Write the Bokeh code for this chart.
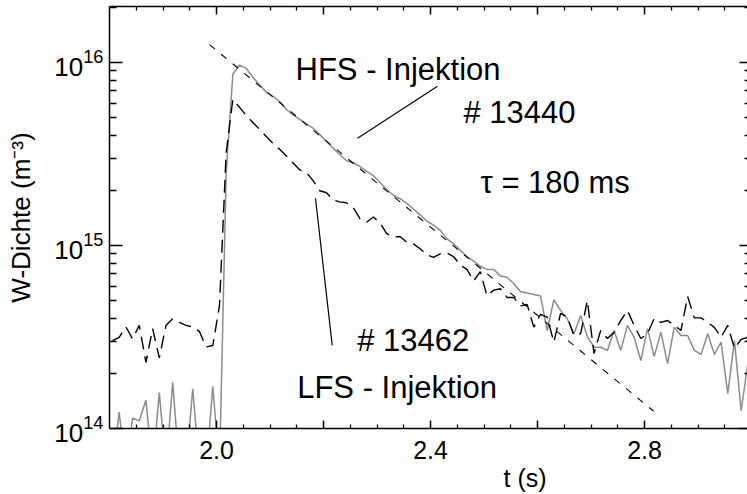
import numpy as np
from bokeh.plotting import figure
from bokeh.models import (FixedTicker, LinearAxis, LogAxis, Label, Range1d, Title,
                          CustomJSTickFormatter, LogTickFormatter)
from bokeh.embed import file_html
from bokeh.resources import INLINE

# ---- data -------------------------------------------------------------
# common time base of both shots (s)
t_start = 1.8056
t_step = 0.0125

# W density, shot 13440 (HFS injection), in units of 1e14 m^-3
hfs_13440 = [
    0.6, 1.23, 0.6, 1.14, 1.10, 1.43, 0.6, 1.57, 0.6, 1.79,
    0.6, 0.6, 1.65, 0.6, 0.6, 1.70, 0.6, 25.0, 86.4, 96.7,
    92.7, 83.0, 75.3, 68.8, 65.2, 61.1, 55.3, 51.6, 48.8, 46.2,
    43.7, 40.3, 37.0, 34.0, 31.3, 29.0, 28.3, 27.0, 25.4, 24.1,
    22.1, 20.2, 18.8, 18.0, 17.0, 15.8, 14.7, 13.6, 12.9, 12.1,
    10.9, 10.2, 9.4, 8.7, 8.2, 7.7, 7.4, 7.4, 6.8, 6.7,
    6.2, 5.6, 5.5, 5.4, 5.3, 3.43, 5.05, 4.42, 3.98, 3.29,
    4.14, 3.18, 2.78, 2.78, 2.67, 3.43, 2.67, 3.66, 3.15, 2.35,
    3.51, 2.47, 3.36, 2.26, 3.58, 3.22, 3.22, 2.67, 2.54, 3.29,
    2.54, 2.96, 1.55, 3.02, 1.25, 2.26,
]

# W density, shot 13462 (LFS injection), in units of 1e14 m^-3
lfs_13462 = [
    3.02, 3.15, 3.59, 3.09, 3.66, 2.30, 3.51, 2.43, 3.66, 3.98,
    3.80, 3.66, 3.59, 3.39, 2.79, 2.84, 4.70, 32.2, 62.8, 56.8,
    51.3, 47.0, 43.0, 39.4, 36.1, 33.5, 30.8, 28.2, 25.9, 25.0,
    22.6, 19.9, 19.4, 17.7, 17.3, 17.1, 16.1, 14.0, 13.4, 14.3,
    13.3, 11.6, 11.1, 11.2, 10.4, 10.2, 9.6, 8.9, 8.6, 9.0,
    9.1, 8.7, 7.8, 7.4, 6.4, 7.2, 5.3, 5.7, 5.8, 5.2,
    5.2, 4.67, 4.76, 3.58, 4.20, 4.06, 2.96, 4.25, 4.06, 3.22,
    3.30, 5.0, 2.57, 3.43, 3.10, 3.35, 3.89, 4.42, 3.66, 3.10,
    3.30, 3.99, 3.80, 3.89, 3.66, 3.43, 5.27, 4.02, 4.02, 3.80,
    3.57, 3.15, 3.66, 2.74, 3.07, 3.15,
]
density_unit = 1e14

# exponential decay fit, tau = 180 ms
tau = 0.180
fit_t = [1.987, 2.817]
fit_n_start = 1.25e16

# ticks
x_major = [2.0, 2.2, 2.4, 2.6, 2.8]
x_labelled = [2.0, 2.4, 2.8]
x_minor = [1.85, 1.9, 1.95, 2.05, 2.1, 2.15, 2.25, 2.3, 2.35, 2.45, 2.5,
           2.55, 2.65, 2.7, 2.75, 2.85, 2.9, 2.95]
y_major = [1e14, 1e15, 1e16]
y_minor = [m * 10.0 ** k for k in (14, 15) for m in range(2, 10)] + [2e16]

FONT = "Liberation Sans"

# ---- figure -----------------------------------------------------------
p = figure(width=747, height=494,
           x_range=Range1d(1.8, 2.9925), y_range=Range1d(1e14, 2.02e16),
           y_axis_type="log", output_backend="svg", toolbar_location=None,
           min_border_left=109, min_border_right=0,
           min_border_top=6, min_border_bottom=66)
p.outline_line_color = None
p.grid.visible = False
p.background_fill_color = "white"
p.border_fill_color = "white"

t = t_start + t_step * np.arange(len(hfs_13440))
p.line(t, np.array(hfs_13440) * density_unit, line_color="#8c8c8c", line_width=1.5)
p.line(t, np.array(lfs_13462) * density_unit, line_color="black",
       line_width=1.4, line_dash="13 7")

fit_n = [fit_n_start * np.exp(-(ti - fit_t[0]) / tau) for ti in fit_t]
p.line(fit_t, fit_n, line_color="black", line_width=1.1, line_dash="7 8")

# leader lines from the shot labels to the curves
p.segment(x0=[2.2636, 2.185], y0=[3.85e15, 1.81e15],
          x1=[2.4131, 2.2163], y1=[7.4e15, 2.85e14],
          line_color="black", line_width=1.2)

# ---- axes -------------------------------------------------------------
blank = CustomJSTickFormatter(code="return ''")
x_ticker = FixedTicker(ticks=x_major, minor_ticks=x_minor)
y_ticker = FixedTicker(ticks=y_major, minor_ticks=y_minor)


def style(ax, major, minor):
    ax.axis_line_color = "black"
    ax.axis_line_width = 1.5
    ax.major_tick_line_color = "black"
    ax.major_tick_line_width = 1.5
    ax.minor_tick_line_color = "black"
    ax.minor_tick_line_width = 1.3
    ax.major_tick_in = major
    ax.major_tick_out = 0
    ax.minor_tick_in = minor
    ax.minor_tick_out = 0


xb = p.xaxis[0]
xb.ticker = x_ticker
xb.formatter = CustomJSTickFormatter(
    args=dict(shown=x_labelled),
    code="return shown.some(v => Math.abs(v - tick) < 1e-6) ? tick.toFixed(1) : ''")
style(xb, 8, 4)
xb.major_label_text_font = FONT
xb.major_label_text_font_size = "25px"
xb.major_label_text_color = "black"
xb.major_label_standoff = 12

yl = p.yaxis[0]
yl.ticker = y_ticker
yl.formatter = LogTickFormatter()
style(yl, 13, 7)
yl.major_label_text_font = FONT
yl.major_label_text_font_size = "26px"
yl.major_label_text_color = "black"
yl.major_label_standoff = 6
yl.axis_label = "W-Dichte (m\u207b\u00b3)"
yl.axis_label_text_font = FONT
yl.axis_label_text_font_size = "26px"
yl.axis_label_text_font_style = "normal"
yl.axis_label_text_color = "black"
yl.axis_label_standoff = 15

xt = LinearAxis(ticker=x_ticker, formatter=blank)
style(xt, 8, 4)
xt.major_label_text_font_size = "1px"
xt.major_label_standoff = 0
p.add_layout(xt, "above")

yr = LogAxis(ticker=y_ticker, formatter=blank)
style(yr, 8, 3)
yr.axis_line_color = None
yr.major_label_text_font_size = "1px"
yr.major_label_standoff = 0
p.add_layout(yr, "right")

# time axis title, set right of centre
p.add_layout(Title(text="t (s)", align="left", offset=394, standoff=0,
                   text_font=FONT, text_font_size="25px",
                   text_font_style="normal", text_color="black"), "below")

# ---- annotations ------------------------------------------------------
def label(x, y, text):
    p.add_layout(Label(x=x, y=y, text=text, text_font=FONT, text_font_size="31px",
                       text_color="black", text_align="left",
                       text_baseline="alphabetic"))


label(2.1477, 9.1e15, "HFS - Injektion")
label(2.4617, 5.35e15, "# 13440")
label(2.4935, 2.22e15, "\u03c4 = 180 ms")
label(2.2630, 3.03e14, "# 13462")
label(2.1508, 1.68e14, "LFS - Injektion")

open("out.html", "w").write(file_html(p, INLINE))
